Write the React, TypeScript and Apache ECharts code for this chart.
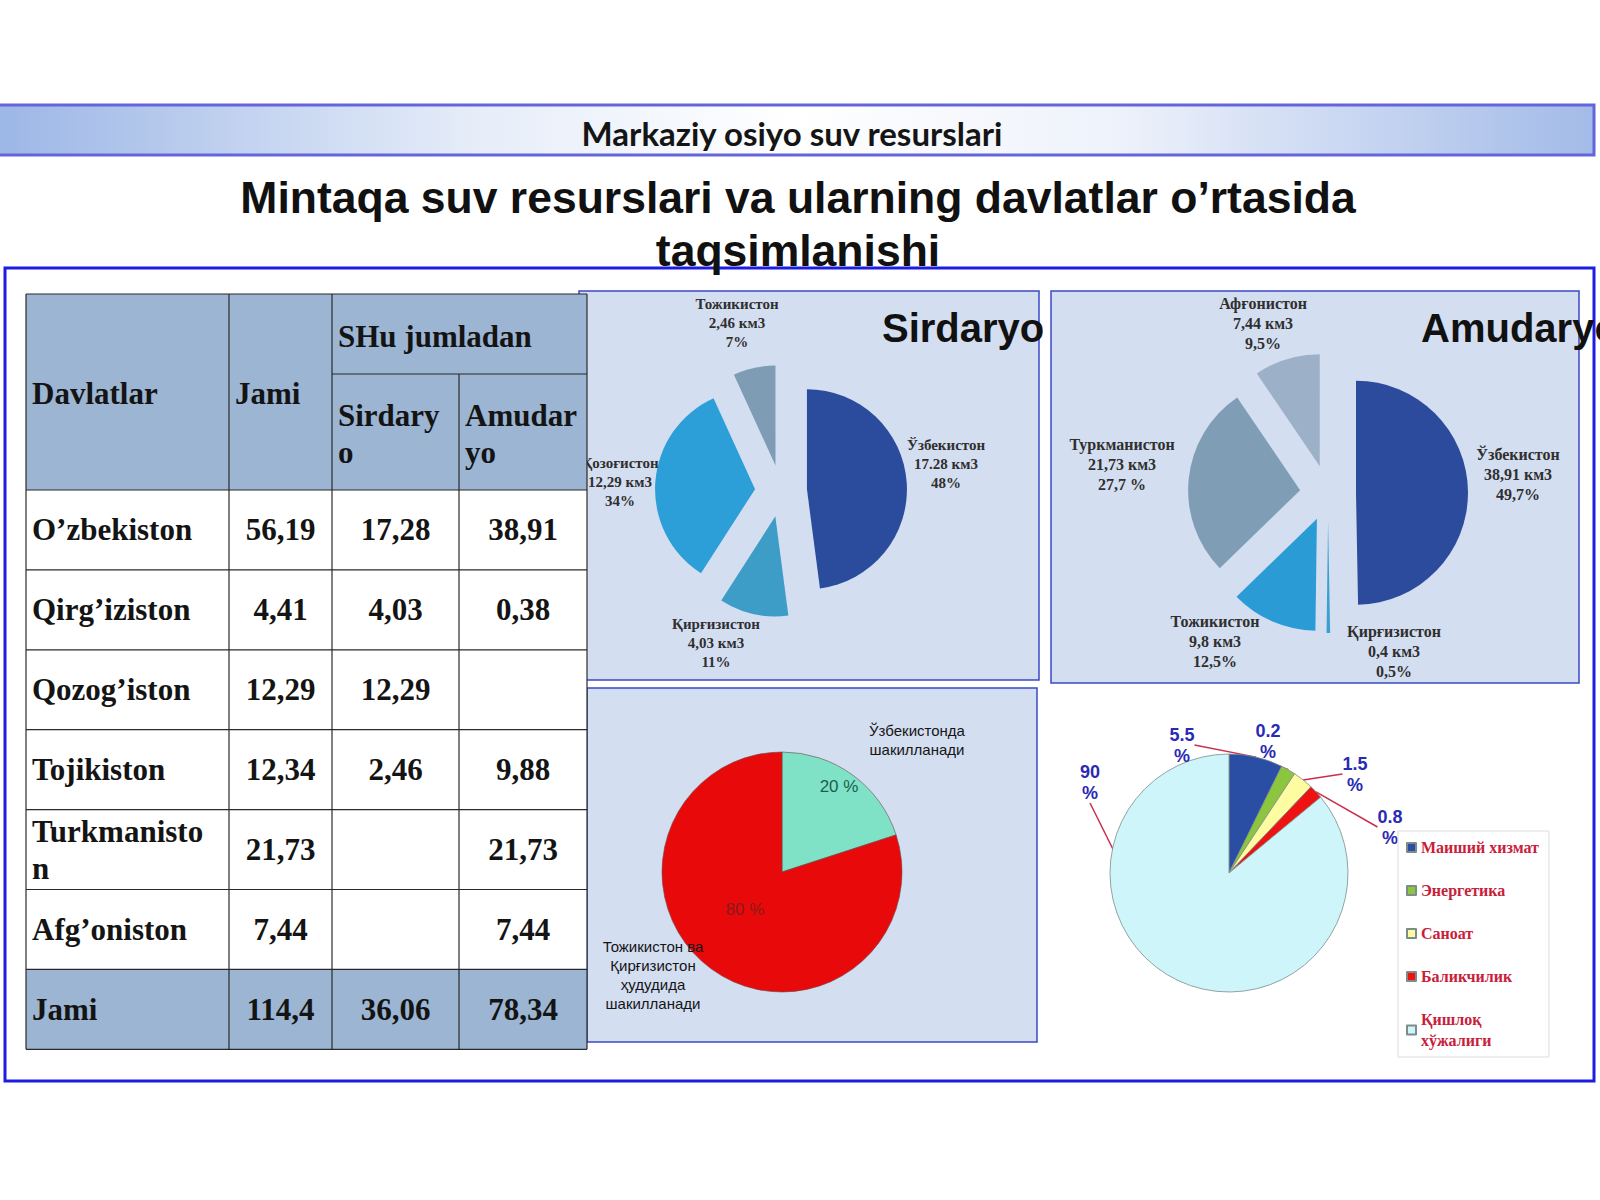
import React, { useEffect, useRef } from 'react';
import * as echarts from 'echarts';

// ---------- DATA ----------
const headerTitle = 'Markaziy osiyo suv resurslari';
const titleLines = ['Mintaqa suv resurslari va ularning davlatlar o’rtasida', 'taqsimlanishi'];

const tableHead = ['Davlatlar', 'Jami', 'SHu jumladan', 'Sirdary\no', 'Amudar\nyo'];
const tableCountries = ['O’zbekiston', 'Qirg’iziston', 'Qozog’iston', 'Tojikiston', 'Turkmanisto\nn', 'Afg’oniston'];
const tableJami = [56.19, 4.41, 12.29, 12.34, 21.73, 7.44];
const tableSirdaryo: (number | null)[] = [17.28, 4.03, 12.29, 2.46, null, null];
const tableAmudaryo: (number | null)[] = [38.91, 0.38, null, 9.88, 21.73, 7.44];
const totalLabel = 'Jami';
const tableTotals = [114.4, 36.06, 78.34];

const sirNames = ['Ўзбекистон', 'Қирғизистон', 'Қозоғистон', 'Тожикистон'];
const sirValues = [17.28, 4.03, 12.29, 2.46];
const sirValueText = ['17.28', '4,03', '12,29', '2,46'];
const sirPercents = ['48%', '11%', '34%', '7%'];

const amuNames = ['Ўзбекистон', 'Қирғизистон', 'Тожикистон', 'Туркманистон', 'Афғонистон'];
const amuValues = [38.91, 0.4, 9.8, 21.73, 7.44];
const amuValueText = ['38,91', '0,4', '9,8', '21,73', '7,44'];
const amuPercents = ['49,7%', '0,5%', '12,5%', '27,7 %', '9,5%'];

const formNames = ['Ўзбекистонда\nшакилланади', 'Тожикистон ва\nҚирғизистон\nҳудудида\nшакилланади'];
const formValues = [20, 80];

const useNames = ['Маиший хизмат', 'Энергетика', 'Саноат', 'Баликчилик', 'Қишлоқ\nхўжалиги'];
// slice sizes as drawn in the picture
const useValues = [7.3, 2.0, 2.8, 1.9, 86];
// percentage labels as printed in the picture
const useLabels = ['5.5', '0.2', '1.5', '0.8', '90'];

// ---------- STYLES / POSITIONS ----------
const sirColors = ['#2b4c9c', '#3d9dc6', '#2c9fd8', '#7e9db5'];
const amuColors = ['#2c4b9c', '#3aa0d0', '#2b9bd5', '#7f9db4', '#9cb1c7'];
const formColors = ['#7fe2c6', '#e80a0a'];
const formLabelColors = ['#1b5e4e', '#8b1a1a'];
const useColors = ['#2b4ea5', '#8cc63f', '#fdfca0', '#ee1212', '#cdf5fa'];

const sirLabelPos = [[946, 464], [716, 643], [620, 482], [737, 323]];
const amuLabelPos = [[1518, 474], [1394, 651], [1215, 641], [1122, 464], [1263, 323]];
const formPctPos = [[839, 786], [745, 909]];
const formNamePos = [[917, 740], [653, 975]];
const useLabelPos = [[1182, 745], [1268, 741], [1355, 774], [1390, 827], [1090, 782]];

const fmt = (v: number | null) => (v == null ? '' : String(v).replace('.', ','));

function buildTable(): any[] {
  const els: any[] = [];
  const colX = [26, 229, 332, 459, 587];
  const tTop = 294, tSub = 374, tHead = 490, rowH = 79.9;
  const nRows = tableCountries.length + 1;
  const tBottom = tHead + rowH * nRows;
  const headFill = '#9bb5d3';
  const lineC = '#2a2a2a';
  const font = 'bold 31px "Liberation Serif"';
  const txt = '#141414';
  const z = 30;
  els.push({ type: 'rect', z, shape: { x: colX[0], y: tTop, width: colX[4] - colX[0], height: tHead - tTop }, style: { fill: headFill } });
  els.push({ type: 'rect', z, shape: { x: colX[0], y: tHead, width: colX[4] - colX[0], height: rowH * (nRows - 1) }, style: { fill: '#ffffff' } });
  els.push({ type: 'rect', z, shape: { x: colX[0], y: tHead + rowH * (nRows - 1), width: colX[4] - colX[0], height: rowH }, style: { fill: headFill } });
  const hl = (y: number, x1: number, x2: number) => els.push({ type: 'line', z: z + 1, shape: { x1, y1: y, x2, y2: y }, style: { stroke: lineC, lineWidth: 1.2 } });
  const vl = (x: number, y1: number, y2: number) => els.push({ type: 'line', z: z + 1, shape: { x1: x, y1, x2: x, y2 }, style: { stroke: lineC, lineWidth: 1.2 } });
  hl(tTop, colX[0], colX[4]);
  hl(tSub, colX[2], colX[4]);
  for (let i = 0; i <= nRows; i++) hl(tHead + rowH * i, colX[0], colX[4]);
  vl(colX[0], tTop, tBottom); vl(colX[1], tTop, tBottom); vl(colX[2], tTop, tBottom); vl(colX[4], tTop, tBottom);
  vl(colX[3], tSub, tBottom);
  const t = (text: string, x: number, y: number, align: string) =>
    els.push({ type: 'text', z: z + 2, x, y, style: { text, font, fill: txt, align, verticalAlign: 'middle', lineHeight: 37 } });
  t(tableHead[0], 32, 393, 'left');
  t(tableHead[1], 235, 393, 'left');
  t(tableHead[2], 338, 336, 'left');
  t(tableHead[3], 338, 434, 'left');
  t(tableHead[4], 465, 434, 'left');
  const cc = [(colX[1] + colX[2]) / 2, (colX[2] + colX[3]) / 2, (colX[3] + colX[4]) / 2];
  tableCountries.forEach((c, i) => {
    const y = tHead + rowH * i + rowH / 2;
    t(c, 32, y, 'left');
    t(fmt(tableJami[i]), cc[0], y, 'center');
    t(fmt(tableSirdaryo[i]), cc[1], y, 'center');
    t(fmt(tableAmudaryo[i]), cc[2], y, 'center');
  });
  const yT = tHead + rowH * (nRows - 1) + rowH / 2;
  t(totalLabel, 32, yT, 'left');
  tableTotals.forEach((v, i) => t(fmt(v), cc[i], yT, 'center'));
  return els;
}

const posLayout = (pos: number[][]) => (p: any) => ({ x: pos[p.dataIndex][0], y: pos[p.dataIndex][1], align: 'center', verticalAlign: 'middle' });

function explodedPie(center: number[], radius: number, offset: number, names: string[], values: number[], colors: string[],
  valueText: string[], percents: string[], labelPos: number[][], fontSize: number, lineHeight: number): any[] {
  return [
    {
      type: 'pie', center, radius, startAngle: 90, selectedMode: 'multiple', selectedOffset: offset,
      avoidLabelOverlap: false, emphasis: { disabled: true }, select: { itemStyle: { borderWidth: 0 } },
      data: names.map((n, i) => ({ name: n, value: values[i], selected: true, itemStyle: { color: colors[i] } })),
      label: { show: false }, labelLine: { show: false },
    },
    {
      type: 'pie', center, radius, startAngle: 90, silent: true, avoidLabelOverlap: false, emphasis: { disabled: true },
      data: names.map((n, i) => ({ name: n, value: values[i], itemStyle: { color: 'rgba(0,0,0,0)' } })),
      label: {
        show: true, position: 'outside',
        formatter: (p: any) => `${p.name}\n${valueText[p.dataIndex]} км3\n${percents[p.dataIndex]}`,
        fontFamily: 'Liberation Serif', fontWeight: 'bold', fontSize, lineHeight, color: '#2f2f2f', align: 'center',
      },
      labelLine: { show: false },
      labelLayout: posLayout(labelPos),
    },
  ];
}

function buildOption(): any {
  const graphic: any[] = [
    {
      type: 'rect', z: 1, shape: { x: -4, y: 105, width: 1598, height: 50 },
      style: {
        fill: { type: 'linear', x: 0, y: 0, x2: 1, y2: 0, colorStops: [
          { offset: 0, color: '#9cb6e6' }, { offset: 0.3, color: '#e6edf9' }, { offset: 0.5, color: '#ffffff' },
          { offset: 0.7, color: '#eef2fb' }, { offset: 1, color: '#a3bbe8' }] },
        stroke: '#6464dc', lineWidth: 3,
      },
    },
    { type: 'text', z: 2, x: 792, y: 133, style: { text: headerTitle, font: 'bold 33px Lato', fill: '#151515', align: 'center', verticalAlign: 'middle' } },
    { type: 'rect', z: 1, shape: { x: 5, y: 268, width: 1589, height: 813 }, style: { fill: 'rgba(0,0,0,0)', stroke: '#1c1ce4', lineWidth: 3 } },
    { type: 'text', z: 40, x: 798, y: 197, style: { text: titleLines[0], font: 'bold 44.5px "Liberation Sans"', fill: '#111111', align: 'center', verticalAlign: 'middle' } },
    { type: 'text', z: 40, x: 798, y: 250, style: { text: titleLines[1], font: 'bold 44.5px "Liberation Sans"', fill: '#111111', align: 'center', verticalAlign: 'middle' } },
    { type: 'rect', z: 0, shape: { x: 579, y: 291, width: 460, height: 389 }, style: { fill: '#d4def1', stroke: '#3b48c8', lineWidth: 1.5 } },
    { type: 'rect', z: 0, shape: { x: 1051, y: 291, width: 528, height: 392 }, style: { fill: '#d4def1', stroke: '#3b48c8', lineWidth: 1.5 } },
    { type: 'rect', z: 0, shape: { x: 587, y: 688, width: 450, height: 354 }, style: { fill: '#d4def1', stroke: '#3b48c8', lineWidth: 1.5 } },
    { type: 'text', z: 5, x: 882, y: 328, style: { text: 'Sirdaryo', font: 'bold 40px "Liberation Sans"', fill: '#111111', align: 'left', verticalAlign: 'middle' } },
    { type: 'text', z: 5, x: 1421, y: 328, style: { text: 'Amudaryo', font: 'bold 40px "Liberation Sans"', fill: '#111111', align: 'left', verticalAlign: 'middle' } },
    ...buildTable(),
  ];

  const series: any[] = [
    ...explodedPie([781, 491], 100, 26, sirNames, sirValues, sirColors, sirValueText, sirPercents, sirLabelPos, 15, 19),
    ...explodedPie([1328, 493], 112, 28, amuNames, amuValues, amuColors, amuValueText, amuPercents, amuLabelPos, 16, 20),
    {
      type: 'pie', center: [782, 872], radius: 120, startAngle: 90, avoidLabelOverlap: false, emphasis: { disabled: true },
      itemStyle: { borderColor: '#6a4a4a', borderWidth: 0.6 },
      data: formNames.map((n, i) => ({ name: n, value: formValues[i], itemStyle: { color: formColors[i] }, label: { color: formLabelColors[i] } })),
      label: { show: true, position: 'inside', formatter: '{c} %', fontFamily: 'Liberation Sans', fontSize: 17 },
      labelLine: { show: false },
      labelLayout: posLayout(formPctPos),
    },
    {
      type: 'pie', center: [782, 872], radius: 120, startAngle: 90, avoidLabelOverlap: false, silent: true, emphasis: { disabled: true },
      data: formNames.map((n, i) => ({ name: n, value: formValues[i], itemStyle: { color: 'rgba(0,0,0,0)' } })),
      label: { show: true, position: 'outside', formatter: '{b}', fontFamily: 'Liberation Sans', fontSize: 15, lineHeight: 19, color: '#151515', align: 'center' },
      labelLine: { show: false },
      labelLayout: posLayout(formNamePos),
    },
    {
      type: 'pie', center: [1229, 873], radius: 119, startAngle: 90, avoidLabelOverlap: false, emphasis: { disabled: true },
      itemStyle: { borderColor: '#7d8b8b', borderWidth: 0.8 },
      data: useNames.map((n, i) => ({ name: n, value: useValues[i], itemStyle: { color: useColors[i] } })),
      label: {
        show: true, position: 'outside', formatter: (p: any) => `${useLabels[p.dataIndex]}\n%`,
        fontFamily: 'Liberation Sans', fontWeight: 'bold', fontSize: 18, lineHeight: 21, color: '#2a2ab4', align: 'center',
      },
      labelLine: { show: true, length: 10, length2: 0, lineStyle: { color: '#c8304e', width: 1.5 } },
      labelLayout: posLayout(useLabelPos),
    },
  ];

  return {
    animation: false,
    backgroundColor: '#ffffff',
    graphic,
    legend: {
      data: useNames, orient: 'vertical', left: 1398, top: 831, icon: 'rect', itemWidth: 9, itemHeight: 9, itemGap: 22,
      padding: [6, 10, 6, 8], backgroundColor: '#ffffff', borderColor: '#dcdcdc', borderWidth: 1, selectedMode: false,
      textStyle: { fontFamily: 'Liberation Serif', fontWeight: 'bold', fontSize: 16, lineHeight: 21, color: '#c8203a' },
    },
    series,
  };
}

export default function App() {
  const ref = useRef<HTMLDivElement>(null);
  useEffect(() => {
    const chart = echarts.init(ref.current as HTMLDivElement, null, { renderer: 'svg', width: 1600, height: 1200 });
    chart.setOption(buildOption());
    return () => chart.dispose();
  }, []);
  return <div ref={ref} style={{ position: 'absolute', left: 0, top: 0, width: 1600, height: 1200, background: '#ffffff' }} />;
}
